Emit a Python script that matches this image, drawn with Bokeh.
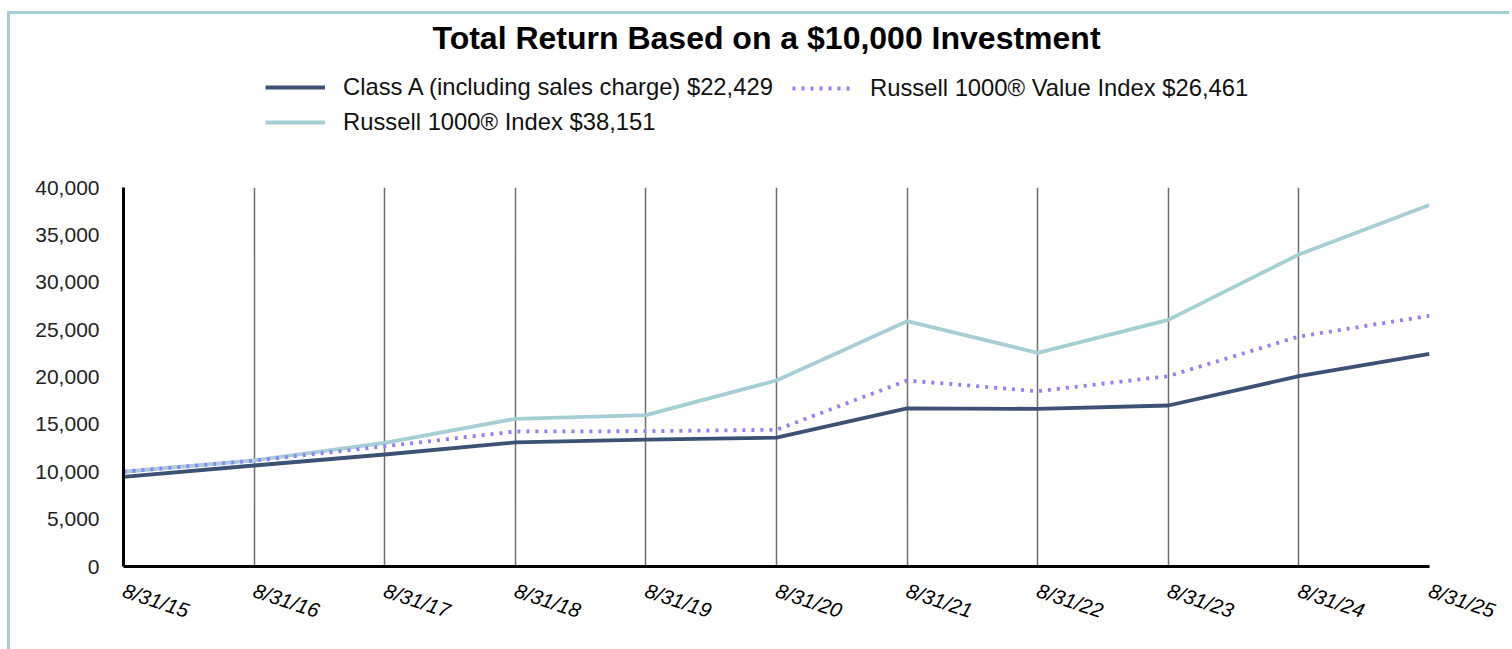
from bokeh.plotting import figure
from bokeh.layouts import column
from bokeh.models import (Range1d, FixedTicker, NumeralTickFormatter, Legend, LegendItem, Label)
from bokeh.embed import file_html
from bokeh.resources import INLINE

# ---- data ----
dates = ["8/31/15", "8/31/16", "8/31/17", "8/31/18", "8/31/19", "8/31/20",
         "8/31/21", "8/31/22", "8/31/23", "8/31/24", "8/31/25"]
class_a = [9450, 10660, 11820, 13090, 13400, 13600, 16680, 16640, 16990, 20090, 22429]
russell_1000 = [10000, 11190, 13050, 15590, 15970, 19630, 25890, 22550, 26030, 32930, 38151]
russell_1000_value = [10000, 11170, 12690, 14250, 14280, 14430, 19630, 18500, 20090, 24270, 26461]
y_ticks = [0, 5000, 10000, 15000, 20000, 25000, 30000, 35000, 40000]

title_text = "Total Return Based on a $10,000 Investment"
label_a = "Class A (including sales charge) $22,429"
label_r = "Russell 1000\u00ae Index $38,151"
label_v = "Russell 1000\u00ae Value Index $26,461"

x = list(range(len(dates)))

FONT = "Liberation Sans"
NAVY = "#3b5275"
TEAL = "#a6cfd5"
PURPLE = "#8f80ff"
BORDER = "3px solid #a6cfd5"

styles_a = dict(line_color=NAVY, line_width=3.8)
styles_r = dict(line_color=TEAL, line_width=3.8)
styles_v = dict(line_color=PURPLE, line_width=3.8, line_dash="3 6")

# ---------------- header (title + legend) ----------------
head = figure(width=1502, height=156, output_backend="svg", toolbar_location=None,
              x_range=Range1d(0, 1), y_range=Range1d(-2, -1),
              x_axis_type=None, y_axis_type=None,
              min_border_left=0, min_border_right=0, min_border_top=0, min_border_bottom=0)
head.margin = (11, 0, 0, 7)
head.styles = {"border-top": BORDER, "border-left": BORDER}
head.outline_line_color = None
head.xgrid.grid_line_color = None
head.ygrid.grid_line_color = None

# the same series, outside this header's ranges: they only give the legend its glyphs
h_a = head.line(x, class_a, **styles_a)
h_r = head.line(x, russell_1000, **styles_r)
h_v = head.line(x, russell_1000_value, **styles_v)

title = Label(x=643, y=133, x_units="screen", y_units="screen", text=title_text,
              text_align="center", text_baseline="middle",
              text_font=FONT, text_font_size="32px", text_font_style="bold", text_color="black")
head.add_layout(title)

common = dict(label_text_font=FONT, label_text_font_size="23.8px", label_text_color="#111111",
              glyph_width=60, glyph_height=20, label_height=20, label_standoff=18,
              padding=0, margin=0, border_line_color=None, background_fill_alpha=0)
leg1 = Legend(items=[LegendItem(label=label_a, renderers=[h_a]),
                     LegendItem(label=label_r, renderers=[h_r])],
              orientation="vertical", spacing=7, location=(142, 34), **common)
leg2 = Legend(items=[LegendItem(label=label_v, renderers=[h_v])],
              orientation="vertical", location=(669, 68), **common)
head.add_layout(leg1, "center")
head.add_layout(leg2, "center")

# ---------------- main chart ----------------
p = figure(width=1502, height=482, output_backend="svg", toolbar_location=None,
           x_range=Range1d(0, len(dates) - 1), y_range=Range1d(0, 40000),
           min_border_left=113, min_border_right=83, min_border_top=20, min_border_bottom=83)
p.margin = (0, 0, 0, 7)
p.styles = {"border-left": BORDER}
p.outline_line_color = None
p.title = None

r_r = p.line(x, russell_1000, **styles_r)
r_v = p.line(x, russell_1000_value, **styles_v)
r_a = p.line(x, class_a, **styles_a)

p.xaxis.ticker = FixedTicker(ticks=x)
p.xaxis.major_label_overrides = {i: d for i, d in enumerate(dates)}
p.xaxis.major_label_orientation = -0.32
p.xaxis.major_label_text_font = FONT
p.xaxis.major_label_text_font_style = "italic"
p.xaxis.major_label_text_font_size = "20.5px"
p.xaxis.major_label_text_color = "black"
p.xaxis.major_label_standoff = 17
p.xaxis.axis_line_color = "black"
p.xaxis.axis_line_width = 3
p.xaxis.major_tick_line_color = None
p.xaxis.minor_tick_line_color = None

p.yaxis.ticker = FixedTicker(ticks=y_ticks)
p.yaxis.formatter = NumeralTickFormatter(format="0,0")
p.yaxis.major_label_text_font = FONT
p.yaxis.major_label_text_font_size = "21px"
p.yaxis.major_label_text_color = "#222222"
p.yaxis.major_label_standoff = 18
p.yaxis.axis_line_color = "black"
p.yaxis.axis_line_width = 3
p.yaxis.major_tick_line_color = None
p.yaxis.minor_tick_line_color = None

p.ygrid.grid_line_color = None
p.xgrid.grid_line_color = "#6e6e6e"
p.xgrid.grid_line_width = 1.5

layout = column(head, p, spacing=0)
open("out.html", "w").write(file_html(layout, INLINE))
